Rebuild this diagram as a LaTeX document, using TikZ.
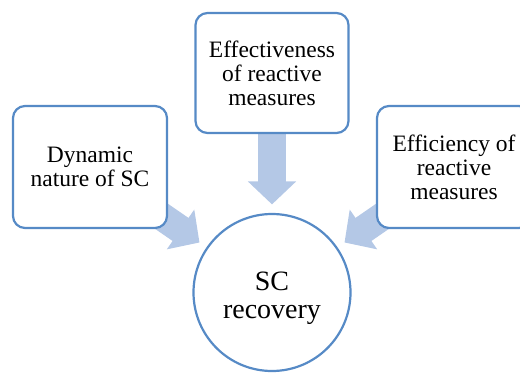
\documentclass[tikz,border=0pt]{standalone}
\usepackage{fontspec}
\setmainfont{Liberation Serif}
\usetikzlibrary{arrows.meta,backgrounds}
\definecolor{edgeblue}{RGB}{86,138,198}
\definecolor{arrowblue}{RGB}{180,200,230}
\begin{document}
\begin{tikzpicture}[x=1pt,y=-1pt,
  box/.style={draw=edgeblue,line width=2.2pt,fill=white,rounded corners=12pt,
    minimum width=154pt,minimum height=122pt,align=center,inner sep=0pt,
    font=\fontsize{23.5}{24}\selectfont},
  hub/.style={circle,draw=edgeblue,line width=2.2pt,fill=white,minimum size=157pt,
    align=center,inner sep=0pt,text height=52pt,text depth=0pt,
    font=\fontsize{28}{28.5}\selectfont},
  blockarrow/.style={arrowblue,line width=28pt,
    -{Triangle[width=47pt,length=23pt]},shorten >=8.5pt}]
\clip (0,0) rectangle (520,373);
\node[box] (left) at (90,167) {Dynamic\\nature of SC};
\node[box,minimum height=120pt,minimum width=153pt] (top) at (272,73) {Effectiveness\\of reactive\\measures};
\node[box] (right) at (454,167) {Efficiency of\\reactive\\measures};
\node[hub] (hub) at (272,292.5) {SC\\recovery};
\begin{scope}[on background layer]
\draw[blockarrow] (left.center) -- (hub);
\draw[blockarrow] (top.center) -- (hub);
\draw[blockarrow] (right.center) -- (hub);
\end{scope}
\end{tikzpicture}
\end{document}
